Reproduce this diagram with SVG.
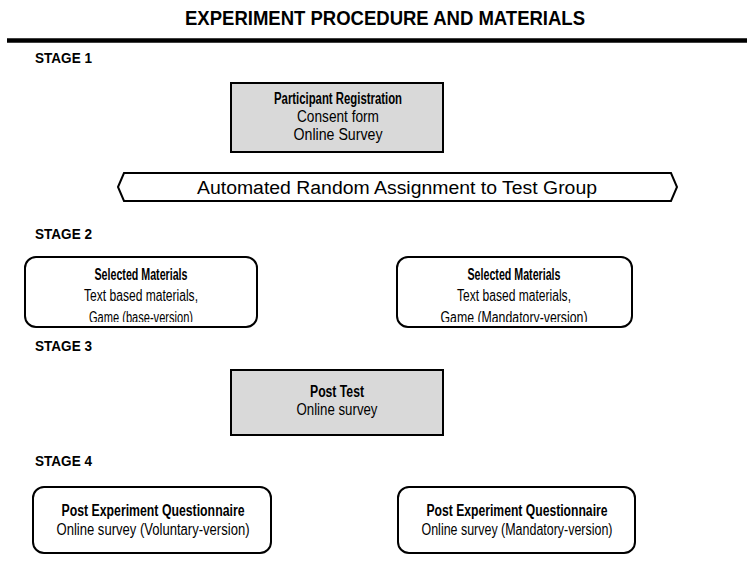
<svg xmlns="http://www.w3.org/2000/svg" width="747" height="566" viewBox="0 0 747 566">
<style>
text{font-family:"Liberation Sans",Arial,sans-serif;fill:#000}
.t{font-size:20px;font-weight:bold;text-anchor:middle}
.stage{font-size:14px;font-weight:bold}
.h{font-size:16px;font-weight:bold;text-anchor:middle}
.b{font-size:16px;text-anchor:middle}
.a{font-size:18px;text-anchor:middle}
.grey{fill:#d9d9d9;stroke:#000;stroke-width:2}
.white{fill:#fff;stroke:#000;stroke-width:2}
</style>
<defs>
<clipPath id="c1"><rect x="26" y="258" width="230" height="64"/></clipPath>
<clipPath id="c2"><rect x="398" y="258" width="233" height="64"/></clipPath>
</defs>
<rect width="747" height="566" fill="#fff"/>
<text class="t" x="385" y="25" textLength="400" lengthAdjust="spacingAndGlyphs">EXPERIMENT PROCEDURE AND MATERIALS</text>
<line x1="7" y1="40.5" x2="747" y2="40.5" stroke="#000" stroke-width="4.5"/>
<text class="stage" x="35" y="63" textLength="57" lengthAdjust="spacingAndGlyphs">STAGE 1</text>
<text class="stage" x="35" y="239" textLength="57" lengthAdjust="spacingAndGlyphs">STAGE 2</text>
<text class="stage" x="35" y="351" textLength="57" lengthAdjust="spacingAndGlyphs">STAGE 3</text>
<text class="stage" x="35" y="466" textLength="57" lengthAdjust="spacingAndGlyphs">STAGE 4</text>
<g id="registration">
<rect class="grey" x="231" y="83" width="212" height="69"/>
<text class="h" x="338" y="104" textLength="128" lengthAdjust="spacingAndGlyphs">Participant Registration</text>
<text class="b" x="338" y="122" textLength="82" lengthAdjust="spacingAndGlyphs">Consent form</text>
<text class="b" x="338" y="140" textLength="89" lengthAdjust="spacingAndGlyphs">Online Survey</text>
</g>
<g id="assignment">
<polygon class="white" points="118,187 124,173 671,173 677,187 671,201 124,201"/>
<text class="a" x="397" y="193.5" textLength="400" lengthAdjust="spacingAndGlyphs">Automated Random Assignment to Test Group</text>
</g>
<g id="materials-base">
<rect class="white" x="25" y="257" width="232" height="70" rx="11"/>
<g clip-path="url(#c1)">
<text class="h" x="141" y="280" textLength="93" lengthAdjust="spacingAndGlyphs">Selected Materials</text>
<text class="b" x="141" y="301" textLength="114" lengthAdjust="spacingAndGlyphs">Text based materials,</text>
<text class="b" x="141" y="323" textLength="104" lengthAdjust="spacingAndGlyphs">Game (base-version)</text>
</g>
</g>
<g id="materials-mandatory">
<rect class="white" x="397" y="257" width="235" height="70" rx="11"/>
<g clip-path="url(#c2)">
<text class="h" x="514" y="280" textLength="93" lengthAdjust="spacingAndGlyphs">Selected Materials</text>
<text class="b" x="514" y="301" textLength="114" lengthAdjust="spacingAndGlyphs">Text based materials,</text>
<text class="b" x="514" y="323" textLength="147" lengthAdjust="spacingAndGlyphs">Game (Mandatory-version)</text>
</g>
</g>
<g id="post-test">
<rect class="grey" x="231" y="370" width="212" height="65"/>
<text class="h" x="337" y="397" textLength="54" lengthAdjust="spacingAndGlyphs">Post Test</text>
<text class="b" x="337" y="415" textLength="81" lengthAdjust="spacingAndGlyphs">Online survey</text>
</g>
<g id="questionnaire-voluntary">
<rect class="white" x="33" y="487" width="238" height="66" rx="11"/>
<text class="h" x="153" y="516" textLength="183" lengthAdjust="spacingAndGlyphs">Post Experiment Questionnaire</text>
<text class="b" x="153" y="535" textLength="193" lengthAdjust="spacingAndGlyphs">Online survey (Voluntary-version)</text>
</g>
<g id="questionnaire-mandatory">
<rect class="white" x="398" y="487" width="237" height="66" rx="11"/>
<text class="h" x="517" y="516" textLength="181" lengthAdjust="spacingAndGlyphs">Post Experiment Questionnaire</text>
<text class="b" x="517" y="535" textLength="191" lengthAdjust="spacingAndGlyphs">Online survey (Mandatory-version)</text>
</g>
<g id="connectors"/>
</svg>
